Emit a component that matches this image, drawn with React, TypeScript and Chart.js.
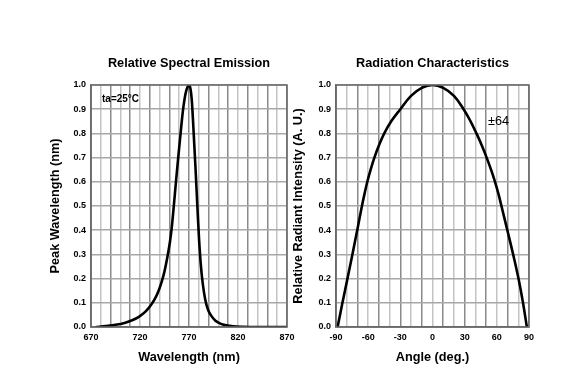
import React, { useEffect, useRef } from "react";
import { Chart, registerables } from "chart.js";

Chart.register(...registerables);

// ---- Data ----
const spectralWavelengths = [675, 685, 695, 705, 712, 718, 723, 727, 731, 735, 739, 742, 745, 748, 750.5, 752.5, 754.5, 756.7, 759, 761.4, 764, 766.5, 768.5, 770, 771.5, 772.8, 774, 775.3, 776.6, 777.8, 779, 780.3, 782, 784, 786.5, 789.5, 793, 797, 802, 808, 815, 825, 840, 870];
const spectralValues = [0.0, 0.004, 0.009, 0.018, 0.028, 0.04, 0.055, 0.07, 0.09, 0.115, 0.15, 0.185, 0.23, 0.29, 0.35, 0.415, 0.5, 0.6, 0.7, 0.8, 0.9, 0.965, 0.992, 1.0, 0.985, 0.94, 0.86, 0.76, 0.66, 0.56, 0.46, 0.36, 0.26, 0.18, 0.115, 0.07, 0.045, 0.026, 0.014, 0.007, 0.003, 0.001, 0.0, 0.0];

const radiationAngles = [-88.5, -84, -79.3, -74.7, -70.2, -65.8, -63.4, -60.8, -57.7, -54.2, -50, -45, -38.5, -30, -20, -10, 0, 10, 20, 29, 35.5, 41, 46, 50.5, 54.6, 58.3, 61.5, 64.3, 69.8, 75.2, 80.2, 84.4, 88];
const radiationValues = [0.0, 0.1, 0.2, 0.3, 0.4, 0.5, 0.55, 0.6, 0.65, 0.7, 0.75, 0.8, 0.85, 0.9, 0.955, 0.988, 1.0, 0.988, 0.955, 0.9, 0.85, 0.8, 0.75, 0.7, 0.65, 0.6, 0.55, 0.5, 0.4, 0.3, 0.2, 0.1, 0.0];

const yTicks = [0, 0.1, 0.2, 0.3, 0.4, 0.5, 0.6, 0.7, 0.8, 0.9, 1.0];
const spectralTickLabels = [670, 720, 770, 820, 870];
const angleTickLabels = [-90, -60, -30, 0, 30, 60, 90];

const FONT = "'Liberation Sans', Arial, Helvetica, sans-serif";

type Note = { text: string; dx: number; dy: number; bold: boolean; size: number };

function makeConfig(opts: {
  xs: number[];
  ys: number[];
  xMin: number;
  xMax: number;
  xLabels: number[];
  title: string;
  xTitle: string;
  yTitle: string;
  yWidth: number;
  padRight: number;
  yTitlePad: number;
  note: Note;
  monotone: boolean;
}) {
  const textPlugin = {
    id: "textOverlay",
    afterDraw(chart: any) {
      const { ctx, chartArea } = chart;
      ctx.save();
      ctx.fillStyle = "#000";
      ctx.textAlign = "center";
      ctx.textBaseline = "middle";
      ctx.font = `bold 12.7px ${FONT}`;
      ctx.fillText(opts.title, (chartArea.left + chartArea.right) / 2, chartArea.top - 22);
      const n = opts.note;
      ctx.textAlign = "left";
      ctx.font = `${n.bold ? "bold " : ""}${n.size}px ${FONT}`;
      ctx.fillText(n.text, chartArea.left + n.dx, chartArea.top + n.dy);
      ctx.restore();
    },
  };
  return {
    type: "line" as const,
    data: {
      datasets: [
        {
          data: opts.xs.map((x, i) => ({ x, y: opts.ys[i] })),
          borderColor: "#000",
          borderWidth: 2.6,
          pointRadius: 0,
          cubicInterpolationMode: opts.monotone ? ("monotone" as const) : ("default" as const),
          tension: opts.monotone ? 0 : 0.4,
          fill: false,
        },
      ],
    },
    options: {
      responsive: false,
      animation: false as const,
      devicePixelRatio: 1,
      layout: { padding: { left: 0, top: 85, right: opts.padRight, bottom: 0 } },
      plugins: { legend: { display: false }, tooltip: { enabled: false }, title: { display: false } },
      scales: {
        x: {
          type: "linear" as const,
          min: opts.xMin,
          max: opts.xMax,
          afterFit: (s: any) => {
            s.height = 48;
          },
          afterBuildTicks: (s: any) => {
            const t = [];
            for (let v = opts.xMin; v <= opts.xMax + 1e-6; v += 10) t.push({ value: v });
            s.ticks = t;
          },
          ticks: {
            autoSkip: false,
            maxRotation: 0,
            padding: 5,
            color: "#000",
            font: { family: FONT, size: 9, weight: "bold" as const },
            callback: (v: any) => (opts.xLabels.includes(Math.round(v)) ? String(Math.round(v)) : ""),
          },
          grid: {
            drawTicks: false,
            lineWidth: 1.5,
            color: (c: any) => (c.index % 2 === 0 ? "#8a8a8a" : "#c4c4c4"),
          },
          border: { display: true, color: "#6a6a6a", width: 1.5 },
          title: {
            display: true,
            text: opts.xTitle,
            color: "#000",
            font: { family: FONT, size: 12.7, weight: "bold" as const },
            padding: { top: 0, bottom: 10 },
          },
        },
        y: {
          type: "linear" as const,
          min: 0,
          max: 1,
          afterFit: (s: any) => {
            s.width = opts.yWidth;
          },
          afterBuildTicks: (s: any) => {
            s.ticks = yTicks.map((v) => ({ value: v }));
          },
          ticks: {
            autoSkip: false,
            padding: 5,
            color: "#000",
            font: { family: FONT, size: 9, weight: "bold" as const },
            callback: (v: any) => Number(v).toFixed(1),
          },
          grid: { drawTicks: false, lineWidth: 1.5, color: "#a8a8a8" },
          border: { display: true, color: "#6a6a6a", width: 1.5 },
          title: {
            display: true,
            text: opts.yTitle,
            color: "#000",
            font: { family: FONT, size: 12.7, weight: "bold" as const },
            padding: { top: opts.yTitlePad, bottom: 0 },
          },
        },
      },
    },
    plugins: [
      textPlugin,
      {
        id: "frame",
        afterDatasetsDraw(chart: any) {
          const { ctx, chartArea } = chart;
          ctx.save();
          ctx.strokeStyle = "#6a6a6a";
          ctx.lineWidth = 1.5;
          ctx.strokeRect(chartArea.left, chartArea.top, chartArea.right - chartArea.left, chartArea.bottom - chartArea.top);
          ctx.restore();
        },
      },
    ],
  };
}

function ChartCanvas(props: { left: number; width: number; config: any }) {
  const ref = useRef<HTMLCanvasElement | null>(null);
  useEffect(() => {
    if (!ref.current) return;
    const chart = new Chart(ref.current, props.config);
    return () => chart.destroy();
  }, []);
  return (
    <canvas
      ref={ref}
      width={props.width}
      height={375}
      style={{ position: "absolute", left: props.left, top: 0, width: props.width, height: 375 }}
    />
  );
}

export default function App() {
  const left = makeConfig({
    xs: spectralWavelengths,
    ys: spectralValues,
    xMin: 670,
    xMax: 870,
    xLabels: spectralTickLabels,
    title: "Relative Spectral Emission",
    xTitle: "Wavelength (nm)",
    yTitle: "Peak Wavelength (nm)",
    yWidth: 91,
    padRight: 13,
    yTitlePad: 48,
    note: { text: "ta=25°C", dx: 11, dy: 14, bold: true, size: 10 },
    monotone: true,
  });
  const right = makeConfig({
    xs: radiationAngles,
    ys: radiationValues,
    xMin: -90,
    xMax: 90,
    xLabels: angleTickLabels,
    title: "Radiation Characteristics",
    xTitle: "Angle (deg.)",
    yTitle: "Relative Radiant Intensity (A. U.)",
    yWidth: 46,
    padRight: 36,
    yTitlePad: 1,
    note: { text: "±64", dx: 152, dy: 36, bold: false, size: 12.7 },
    monotone: false,
  });
  return (
    <div style={{ position: "fixed", left: 0, top: 0, width: 565, height: 375, background: "#fff" }}>
      <ChartCanvas left={0} width={300} config={left} />
      <ChartCanvas left={290} width={275} config={right} />
    </div>
  );
}
